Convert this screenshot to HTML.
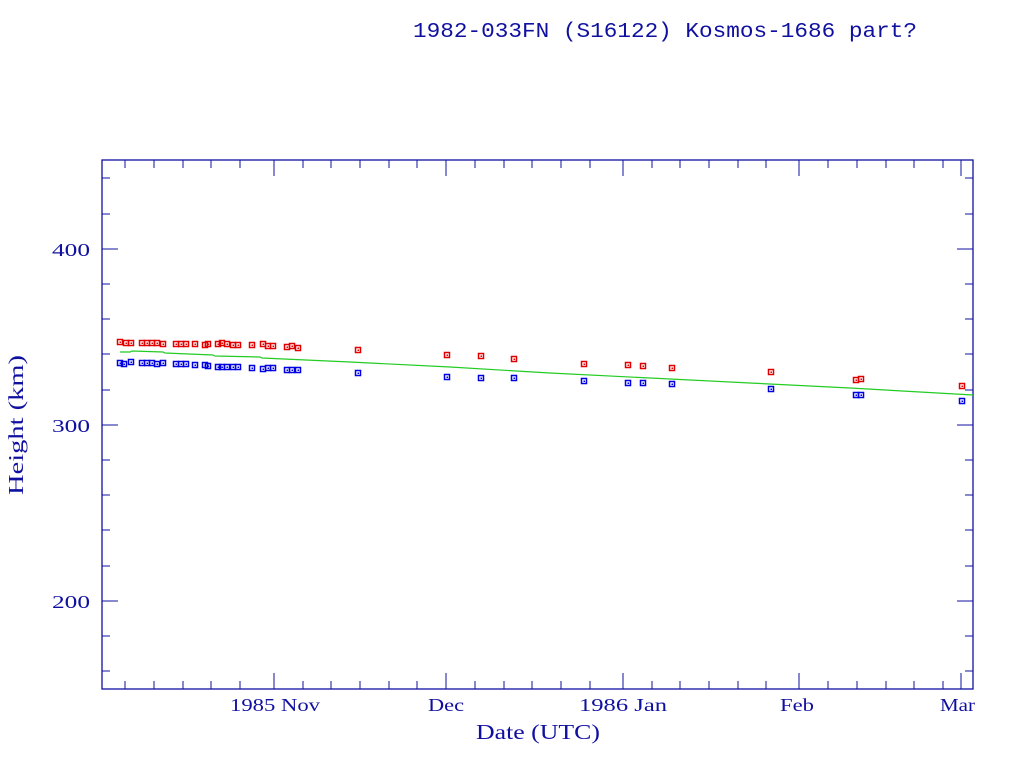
<!DOCTYPE html>
<html><head><meta charset="utf-8"><style>body{margin:0;background:#fff}svg{display:block}</style></head><body>
<svg width="1024" height="768" xmlns="http://www.w3.org/2000/svg" font-family="Liberation Serif, serif" fill="#1010a0">
<text x="413" y="37" font-size="21" textLength="504" lengthAdjust="spacingAndGlyphs" font-family="Liberation Mono, monospace">1982-033FN (S16122) Kosmos-1686 part?</text>
<rect x="102" y="160" width="871" height="529" fill="none" stroke="#1010a0" stroke-width="1.3"/>
<g stroke="#1010a0" stroke-width="1">
<path d="M102 601h16M102 425h16M102 249h16M973 601h-16M973 425h-16M973 249h-16"/>
<path d="M102 671h8M102 636h8M102 566h8M102 530h8M102 495h8M102 460h8M102 390h8M102 354h8M102 319h8M102 284h8M102 214h8M102 178h8"/>
<path d="M973 671h-8M973 636h-8M973 566h-8M973 530h-8M973 495h-8M973 460h-8M973 390h-8M973 354h-8M973 319h-8M973 284h-8M973 214h-8M973 178h-8"/>
<path d="M274 689v-16M446 689v-16M623 689v-16M799 689v-16M961 689v-16M274 160v16M446 160v16M623 160v16M799 160v16M961 160v16"/>
<path d="M125 689v-8M154 689v-8M183 689v-8M211 689v-8M240 689v-8M303 689v-8M331 689v-8M360 689v-8M389 689v-8M417 689v-8M475 689v-8M504 689v-8M532 689v-8M561 689v-8M590 689v-8M652 689v-8M680 689v-8M709 689v-8M738 689v-8M766 689v-8M828 689v-8M857 689v-8M886 689v-8M914 689v-8M943 689v-8"/>
<path d="M125 160v8M154 160v8M183 160v8M211 160v8M240 160v8M303 160v8M331 160v8M360 160v8M389 160v8M417 160v8M475 160v8M504 160v8M532 160v8M561 160v8M590 160v8M652 160v8M680 160v8M709 160v8M738 160v8M766 160v8M828 160v8M857 160v8M886 160v8M914 160v8M943 160v8"/>
</g>
<g font-size="18"><text x="52" y="256" textLength="38" lengthAdjust="spacingAndGlyphs">400</text><text x="52" y="432" textLength="38" lengthAdjust="spacingAndGlyphs">300</text><text x="52" y="608" textLength="38" lengthAdjust="spacingAndGlyphs">200</text></g>
<g font-size="18"><text x="230" y="711" textLength="90" lengthAdjust="spacingAndGlyphs">1985 Nov</text><text x="428" y="711" textLength="36" lengthAdjust="spacingAndGlyphs">Dec</text><text x="579" y="711" textLength="88" lengthAdjust="spacingAndGlyphs">1986 Jan</text><text x="780" y="711" textLength="34" lengthAdjust="spacingAndGlyphs">Feb</text><text x="940" y="711" textLength="35" lengthAdjust="spacingAndGlyphs">Mar</text></g>
<text x="476" y="739" font-size="21" textLength="124" lengthAdjust="spacingAndGlyphs">Date (UTC)</text>
<text transform="translate(23,495) rotate(-90)" font-size="21" textLength="140" lengthAdjust="spacingAndGlyphs">Height (km)</text>
<polyline fill="none" stroke="#22cc22" stroke-width="1.2" points="120,352 130,352 132,351 163,352 165,353 213,355 215,356 260,357 262,358 350,362 450,367 550,373 650,378 750,383 850,388 973,395"/>
<g id="pts" fill="none" stroke-width="1.5"></g>
</svg>
<script>
var r=[[120,342],[126,343],[131,343],[142,343],[147,343],[152,343],[157,343],[163,344],[176,344],[181,344],[186,344],[195,344],[205,345],[208,344],[218,344],[222,343],[227,344],[233,345],[238,345],[252,345],[263,344],[268,346],[273,346],[287,347],[292,346],[298,348],[358,350],[447,355],[481,356],[514,359],[584,364],[628,365],[643,366],[672,368],[771,372],[856,380],[861,379],[962,386]];
var b=[[120,363],[124,364],[131,362],[142,363],[147,363],[152,363],[157,364],[163,363],[176,364],[181,364],[186,364],[195,365],[205,365],[208,366],[218,367],[222,367],[227,367],[233,367],[238,367],[252,368],[263,369],[268,368],[273,368],[287,370],[292,370],[298,370],[358,373],[447,377],[481,378],[514,378],[584,381],[628,383],[643,383],[672,384],[771,389],[856,395],[861,395],[962,401]];
var g=document.getElementById('pts'),s='';
function add(a,c){a.forEach(function(p){s+='<rect x="'+(p[0]-2.5)+'" y="'+(p[1]-2.5)+'" width="5" height="5" stroke="'+c+'"/><rect x="'+(p[0]-0.5)+'" y="'+(p[1]-0.5)+'" width="1.5" height="1.5" fill="'+c+'" stroke="none"/>';});}
add(r,'#e00000');add(b,'#0000e0');g.innerHTML=s;
</script>
</body></html>
